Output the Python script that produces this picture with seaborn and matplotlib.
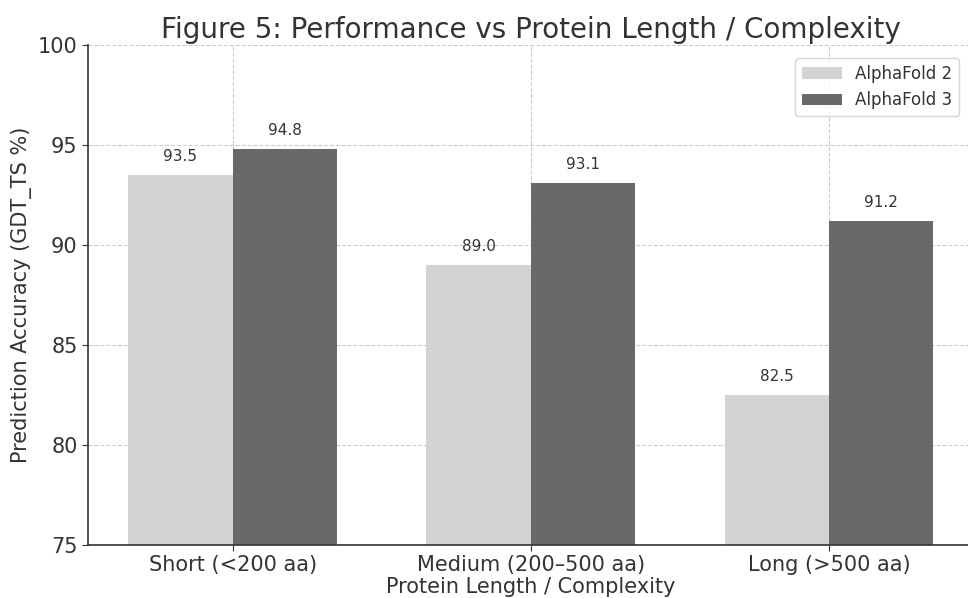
import pandas as pd
import matplotlib.pyplot as plt
import seaborn as sns

# Data
categories = ['Short (<200 aa)', 'Medium (200–500 aa)', 'Long (>500 aa)']
af2_scores = [93.5, 89.0, 82.5]
af3_scores = [94.8, 93.1, 91.2]
models = ['AlphaFold 2', 'AlphaFold 3']

df = pd.DataFrame({
    'category': categories * 2,
    'model': [models[0]] * 3 + [models[1]] * 3,
    'score': af2_scores + af3_scores,
})

sns.set_style('ticks')
plt.rcParams['font.family'] = ['DejaVu Sans']

fig = plt.figure(figsize=(9.68, 5.98), dpi=100)
ax = fig.add_axes([0.0909, 0.0886, 0.915, 0.836])

sns.barplot(
    data=df,
    x='category',
    y='score',
    hue='model',
    palette=['#d3d3d3', '#696969'],
    saturation=1,
    width=0.7,
    linewidth=0,
    ax=ax
)

for container in ax.containers:
    ax.bar_label(container, fmt='%.1f', padding=8, fontsize=11, color='#333333')

ax.set_ylim(75, 100)
ax.set_xlim(-0.485, 2.485)
ax.grid(True, linestyle='--', color='#cccccc', linewidth=0.8)
ax.set_axisbelow(True)

ax.set_title('Figure 5: Performance vs Protein Length / Complexity',
             fontsize=20, color='#333333', pad=5)
ax.set_xlabel('Protein Length / Complexity', fontsize=15, color='#333333', labelpad=1)
ax.set_ylabel('Prediction Accuracy (GDT_TS %)', fontsize=15, color='#333333')
ax.tick_params(axis='both', labelsize=15, colors='#333333', length=4)

sns.despine(ax=ax)
for side in ['left', 'bottom']:
    ax.spines[side].set_color('#333333')
    ax.spines[side].set_linewidth(1.2)

leg = ax.legend(loc='upper right', fontsize=12, title=None,
                bbox_to_anchor=(0.993, 0.99), frameon=True,
                handlelength=2.4)
for text in leg.get_texts():
    text.set_color('#333333')

fig.savefig('out.png')
